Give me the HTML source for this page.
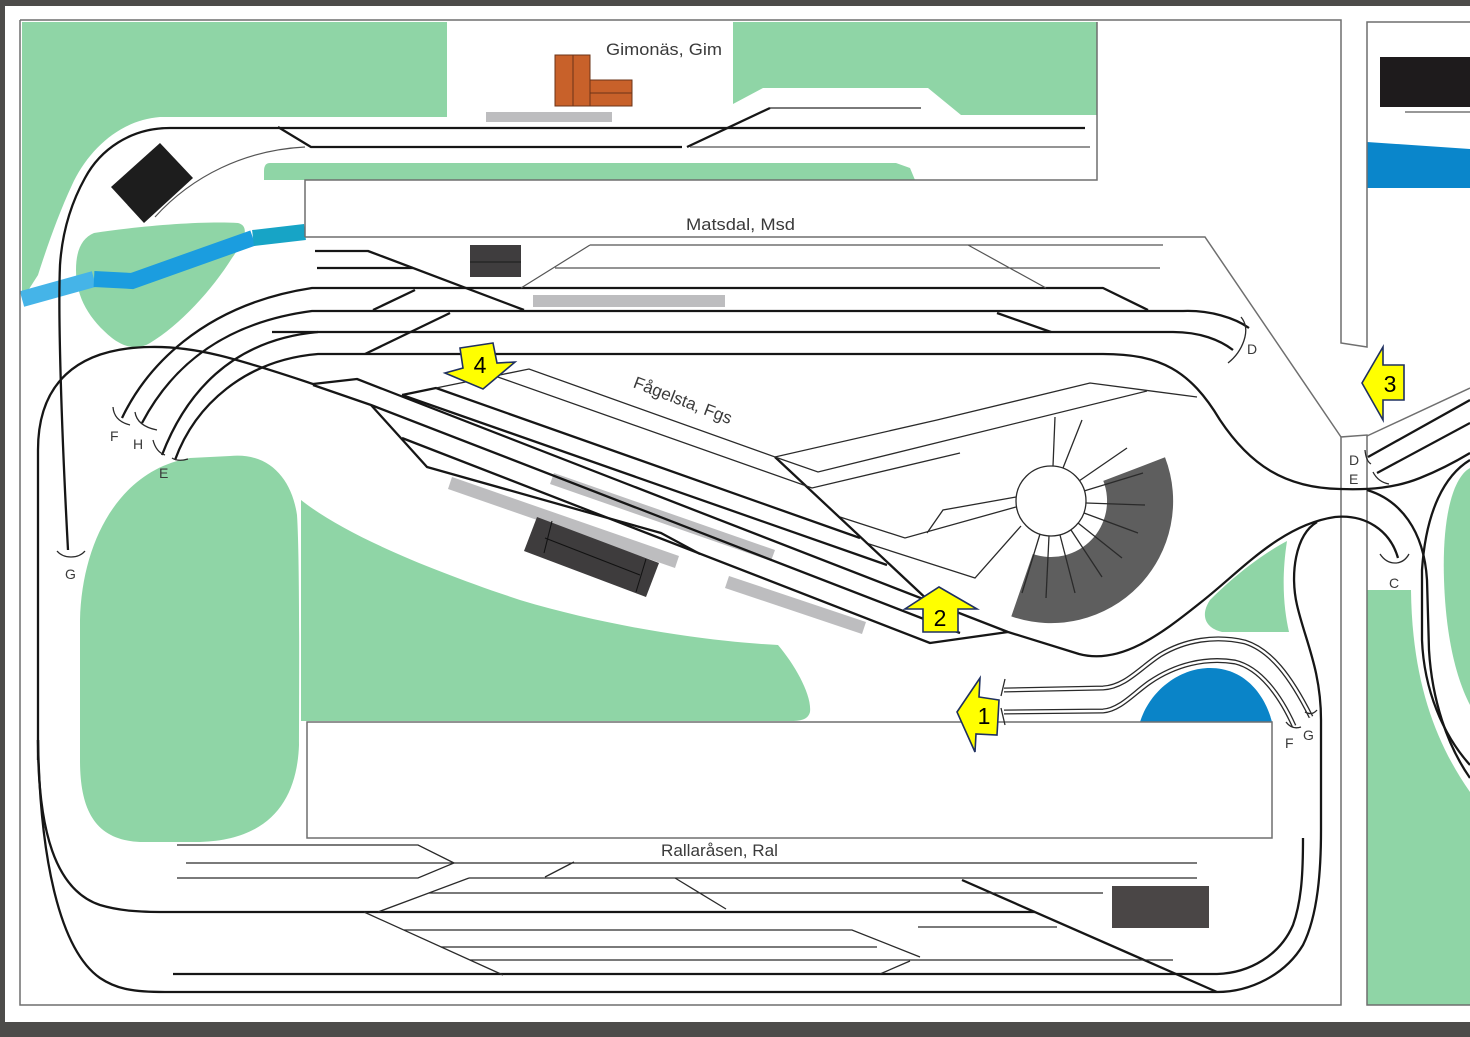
<!DOCTYPE html>
<html><head><meta charset="utf-8"><style>
html,body{margin:0;padding:0;background:#4d4c4a;}
svg{display:block}
.t{stroke:#161616;stroke-width:2.3;fill:none;stroke-linejoin:round}
.s{stroke:#2a2a2a;stroke-width:1.3;fill:none}
.g{stroke:#555;stroke-width:1.2;fill:none}
.f{stroke:#6f6f6f;stroke-width:1.5;fill:none}
.lbl{font-family:"Liberation Sans",sans-serif;fill:#3a3a3a}
.num{font-family:"Liberation Sans",sans-serif;fill:#000;font-size:23px}
.ar{fill:#ffff00;stroke:#1f3060;stroke-width:1.6;stroke-linejoin:miter}
</style></head><body>
<svg width="1470" height="1037" viewBox="0 0 1470 1037" xmlns="http://www.w3.org/2000/svg">
<rect width="1470" height="1037" fill="#4d4c4a"/>
<rect x="5" y="6" width="1465" height="1016" fill="#ffffff"/>

<!-- green areas -->
<g fill="#8fd5a6">
 <path d="M22,22 H447 V117 H160 C120,120 88,150 72,185 C58,215 46,250 38,275 L22,300 Z"/>
 <path d="M733,22 H1097 V115 H961 L928,88 H763 L733,104 Z"/>
 <path d="M270,163 H896 L910,168 L915,180 H264 V171 Q264,163 270,163 Z"/>
 <path d="M94,233 C140,226 200,221 238,223 C250,226 245,240 232,258 C212,290 180,325 150,343 C138,350 125,348 112,338 C90,320 76,298 76,270 C76,250 82,238 94,233 Z"/>
 <path d="M230,456 C270,452 292,480 297,515 C300,560 299,700 299,745 C297,800 270,840 200,842 L140,842 C95,840 80,810 80,760 L80,620 C82,540 120,470 190,458 Z"/>
 <path d="M301,500 C345,535 430,570 520,600 C620,630 720,642 778,645 C795,665 812,695 810,712 C808,720 800,721 790,721 L301,721 Z"/>
 <path d="M1287,541 C1281,580 1284,610 1289,632 L1222,632 C1205,628 1200,615 1210,600 C1240,570 1268,551 1287,541 Z"/>
 <path d="M1367,590 L1411,590 C1412,680 1435,742 1470,792 L1470,1005 L1367,1005 Z"/>
 <path d="M1470,468 C1452,478 1442,520 1444,580 C1446,640 1457,680 1470,705 Z"/>
</g>

<!-- water -->
<polyline points="22,299 94,279" fill="none" stroke="#45b4e8" stroke-width="16"/>
<polyline points="94,279 132,281 253,238" fill="none" stroke="#1b9ddf" stroke-width="16" stroke-linejoin="miter"/>
<polyline points="253,238 305,232" fill="none" stroke="#17a4c6" stroke-width="16"/>
<path d="M1140,722 C1150,690 1180,668 1210,668 C1245,668 1265,695 1272,722 Z" fill="#0a84c8"/>
<path d="M1367,142 L1470,149 L1470,188 L1367,188 Z" fill="#0a86cb"/>
<rect x="1380" y="57" width="90" height="50" fill="#1e1b1c"/>
<line x1="1405" y1="112" x2="1470" y2="112" stroke="#777" stroke-width="1.5"/>

<!-- frames -->
<path class="f" d="M20,20 H1341 V343 L1367,347 V22 H1470"/>
<path class="f" d="M20,20 V1005 H1341 V437 L1367,435 V1005 H1470"/>
<path class="f" d="M1367,436 L1470,388"/>
<path class="f" d="M305,237 H1205 L1341,437"/>
<path class="f" d="M305,237 V180 H1097 V22"/>
<rect class="f" x="307" y="722" width="965" height="116"/>

<!-- buildings/platforms -->
<rect x="555" y="55" width="35" height="51" fill="#c8612a" stroke="#6b3418" stroke-width="1"/>
<line x1="573" y1="55" x2="573" y2="106" stroke="#6b3418"/>
<rect x="590" y="80" width="42" height="26" fill="#c8612a" stroke="#6b3418" stroke-width="1"/>
<line x1="590" y1="93" x2="632" y2="93" stroke="#6b3418"/>
<rect x="486" y="112" width="126" height="10" fill="#bdbdbf"/>
<polygon points="160,143 193,178 144,223 111,187" fill="#1d1d1d"/>
<rect x="470" y="245" width="51" height="32" fill="#3f3d3e"/>
<line x1="470" y1="262" x2="521" y2="262" stroke="#222" stroke-width="1.2"/>
<rect x="533" y="295" width="192" height="12" fill="#bdbdbf"/>
<polygon points="452,477 679,556 675,568 448,489" fill="#bdbdbf"/>
<polygon points="554,473 775,550 771,561 550,484" fill="#bdbdbf"/>
<polygon points="729,576 866,622 862,634 725,588" fill="#bdbdbf"/>
<polygon points="537,517 659,563 646,597 524,551" fill="#3e3c3d"/>
<line x1="545" y1="538" x2="640" y2="575" stroke="#111" stroke-width="1"/>
<line x1="552" y1="521" x2="544" y2="553" stroke="#111" stroke-width="1"/>
<line x1="646" y1="559" x2="636" y2="592" stroke="#111" stroke-width="1"/>
<rect x="1112" y="886" width="97" height="42" fill="#4a4646"/>

<!-- roundhouse and turntable -->
<path d="M1103.3,480.9 L1165,457.3 A122,122 0 0 1 1011.3,616.4 L1032.8,554 A56,56 0 0 0 1103.3,480.9 Z" fill="#5e5e5e"/>
<g class="s">
 <line x1="1053" y1="466" x2="1055" y2="417"/>
 <line x1="1063" y1="468" x2="1082" y2="420"/>
 <line x1="1079" y1="481" x2="1127" y2="448"/>
 <line x1="1084" y1="491" x2="1143" y2="473"/>
 <line x1="1086" y1="503" x2="1145" y2="505"/>
 <line x1="1084" y1="513" x2="1138" y2="533"/>
 <line x1="1078" y1="523" x2="1122" y2="558"/>
 <line x1="1071" y1="530" x2="1102" y2="577"/>
 <line x1="1060" y1="535" x2="1075" y2="593"/>
 <line x1="1049" y1="536" x2="1046" y2="598"/>
 <line x1="1040" y1="534" x2="1022" y2="593"/>
 <path d="M1016,497 L943,510 L927,533"/>
 <path d="M1016,507 L905,538 L840,517"/>
 <path d="M1021,526 L975,578 L866,543"/>
</g>
<circle cx="1051" cy="501" r="35" fill="#fff" stroke="#2a2a2a" stroke-width="1.3"/>

<!-- Gimonas tracks -->
<path class="t" d="M1085,128 H170 C130,128 100,150 85,178 C70,205 62,235 60,265 C58,310 61,420 68,550"/>
<path class="t" d="M278,127 L311,147 H682"/>
<path class="t" d="M687,147 L770,108"/>
<path class="s" d="M770,108 H921"/>
<path class="g" d="M690,147 H1090"/>
<path class="g" d="M305,147 C245,150 192,176 155,217"/>
<path class="s" d="M57,551 Q62,557 71,557 Q80,557 85,551"/>

<!-- Matsdal tracks -->
<path class="t" d="M315,251 H368 L524,310"/>
<path class="t" d="M317,268 H413"/>
<path class="t" d="M122,418 C145,370 200,305 312,288 H1103 L1148,310"/>
<path class="t" d="M415,290 L373,310"/>
<path class="t" d="M142,423 C162,385 205,325 312,311 H1183 C1210,310 1235,318 1249,328"/>
<path class="t" d="M450,313 L365,354"/>
<path class="t" d="M272,332 H1173 C1200,332 1220,340 1233,350"/>
<path class="t" d="M162,455 C185,395 230,340 318,332"/>
<path class="t" d="M175,460 C195,405 245,360 318,354 H1103 C1160,354 1190,370 1220,420 C1250,465 1285,488 1340,489 C1370,490 1395,488 1420,478 C1440,470 1455,462 1470,453"/>
<path class="t" d="M997,313 L1051,332"/>
<path class="g" d="M590,245 H1163 M590,245 L521,288 M555,268 H1160 M968,245 L1046,288"/>
<path class="s" d="M1241,317 C1252,330 1242,352 1228,363"/>
<!-- F H E brackets -->
<path class="s" d="M113,407 Q114,421 130,425 M135,412 Q137,426 157,430 M153,440 Q156,452 165,455 M172,458 Q178,462 188,459"/>

<!-- loop and Fagelsta -->
<path class="t" d="M38,760 L38,450 C38,385 75,348 150,347 C195,346 235,358 313,384 L357,379 L1008,632 L1079,654 C1120,665 1160,635 1200,603 C1240,572 1280,525 1335,517 C1365,514 1390,530 1398,558"/>
<path class="t" d="M313,385 L371,405 L960,633"/>
<path class="t" d="M402,395 L436,388 L860,538"/>
<path class="t" d="M402,395 L887,565"/>
<path class="t" d="M775,457 L932,604"/>
<path class="t" d="M371,405 L427,467 L661,533 L700,554"/>
<path class="t" d="M402,438 L930,643 L1008,632"/>
<path class="s" d="M436,388 L529,369 L775,457 L937,420 L1090,383 L1197,397"/>
<path class="s" d="M495,376 L812,488 L960,453"/>
<path class="s" d="M775,457 L818,472 L1147,391"/>
<path class="s" d="M1398,556 M1380,554 Q1386,563 1395,563 Q1404,563 1409,554"/>

<!-- right loops -->
<path class="t" d="M1317,522 C1295,535 1290,575 1297,605 C1305,640 1321,670 1321,720 V830 C1321,870 1318,915 1303,945 C1285,975 1250,992 1217,992 H165 C130,992 115,988 100,978 C60,950 40,860 38,740"/>
<path class="t" d="M38,740 C38,830 55,890 100,905 C120,911 140,912 165,912 H1035"/>
<path class="t" d="M173,974 H1217 C1250,973 1280,955 1293,925 C1302,900 1303,870 1303,838"/>
<path class="t" d="M962,880 L1217,992"/>
<path class="t" d="M1368,457 L1470,400"/>
<path class="t" d="M1377,473 L1470,423"/>
<path class="s" d="M1365,450 Q1366,461 1371,464 M1373,472 Q1378,482 1389,484"/>
<path class="t" d="M1367,490 C1400,500 1424,530 1427,580 L1429,650 C1432,700 1447,745 1470,778"/>
<path class="t" d="M1470,460 C1445,475 1426,510 1422,570 L1422,640 C1424,690 1443,735 1470,765"/>

<!-- Rallarasen thin tracks -->
<g class="s">
 <path d="M177,845 H418 L454,863 L418,878 H177"/>
 <path d="M186,863 H1197"/>
 <path d="M574,862 L545,877"/>
 <path d="M469,878 H1197"/>
 <path d="M469,878 L378,912"/>
 <path d="M429,893 H1103"/>
 <path d="M675,878 L726,909"/>
 <path d="M364,912 L503,975"/>
 <path d="M404,930 H852 L920,957"/>
 <path d="M441,947 H877"/>
 <path d="M470,960 H1173"/>
 <path d="M880,974 L910,961"/>
 <path d="M918,927 H1057"/>
</g>

<!-- double-line tracks near arrow 1 -->
<g fill="none">
 <path d="M1004,690 L1103,688 C1125,687 1140,668 1160,655 C1185,640 1215,635 1245,642 C1270,650 1290,675 1311,717" stroke="#2a2a2a" stroke-width="5"/>
 <path d="M1004,690 L1103,688 C1125,687 1140,668 1160,655 C1185,640 1215,635 1245,642 C1270,650 1290,675 1311,717" stroke="#fff" stroke-width="2.4"/>
 <path d="M1004,712 L1103,711 C1120,710 1135,692 1150,682 C1175,665 1205,657 1235,662 C1260,668 1280,695 1294,726" stroke="#2a2a2a" stroke-width="5"/>
 <path d="M1004,712 L1103,711 C1120,710 1135,692 1150,682 C1175,665 1205,657 1235,662 C1260,668 1280,695 1294,726" stroke="#fff" stroke-width="2.4"/>
</g>
<path class="s" d="M1005,679 L1001,696 M1001,708 L1005,725 M1286,722 Q1292,730 1301,727 M1305,712 Q1312,716 1317,710"/>

<!-- labels -->
<text class="lbl" x="606" y="55" font-size="17" textLength="116" lengthAdjust="spacingAndGlyphs">Gimonäs, Gim</text>
<text class="lbl" x="686" y="230" font-size="17" textLength="109" lengthAdjust="spacingAndGlyphs">Matsdal, Msd</text>
<text class="lbl" x="661" y="856" font-size="17" textLength="117" lengthAdjust="spacingAndGlyphs">Rallaråsen, Ral</text>
<text class="lbl" x="683" y="406" font-size="17" text-anchor="middle" transform="rotate(21 683 400)" textLength="104" lengthAdjust="spacingAndGlyphs">Fågelsta, Fgs</text>
<g class="lbl" font-size="14">
 <text x="110" y="441">F</text>
 <text x="133" y="449">H</text>
 <text x="159" y="478">E</text>
 <text x="65" y="579">G</text>
 <text x="1247" y="354">D</text>
 <text x="1349" y="465">D</text>
 <text x="1349" y="484">E</text>
 <text x="1389" y="588">C</text>
 <text x="1285" y="748">F</text>
 <text x="1303" y="740">G</text>
</g>

<!-- arrows -->
<polygon class="ar" points="460,348 493,343 497,363 515,362 483,389 445,373 463,368"/>
<text class="num" x="480" y="373" text-anchor="middle">4</text>
<polygon class="ar" points="1362,383 1383,347 1383,365 1404,365 1404,400 1383,400 1383,420"/>
<text class="num" x="1390" y="392" text-anchor="middle">3</text>
<polygon class="ar" points="939,587 977,609 958,609 958,632 923,632 923,609 905,609"/>
<text class="num" x="940" y="626" text-anchor="middle">2</text>
<polygon class="ar" points="957,712 980,678 979,697 999,700 997,735 976,734 975,752"/>
<text class="num" x="984" y="724" text-anchor="middle">1</text>
</svg>
</body></html>
